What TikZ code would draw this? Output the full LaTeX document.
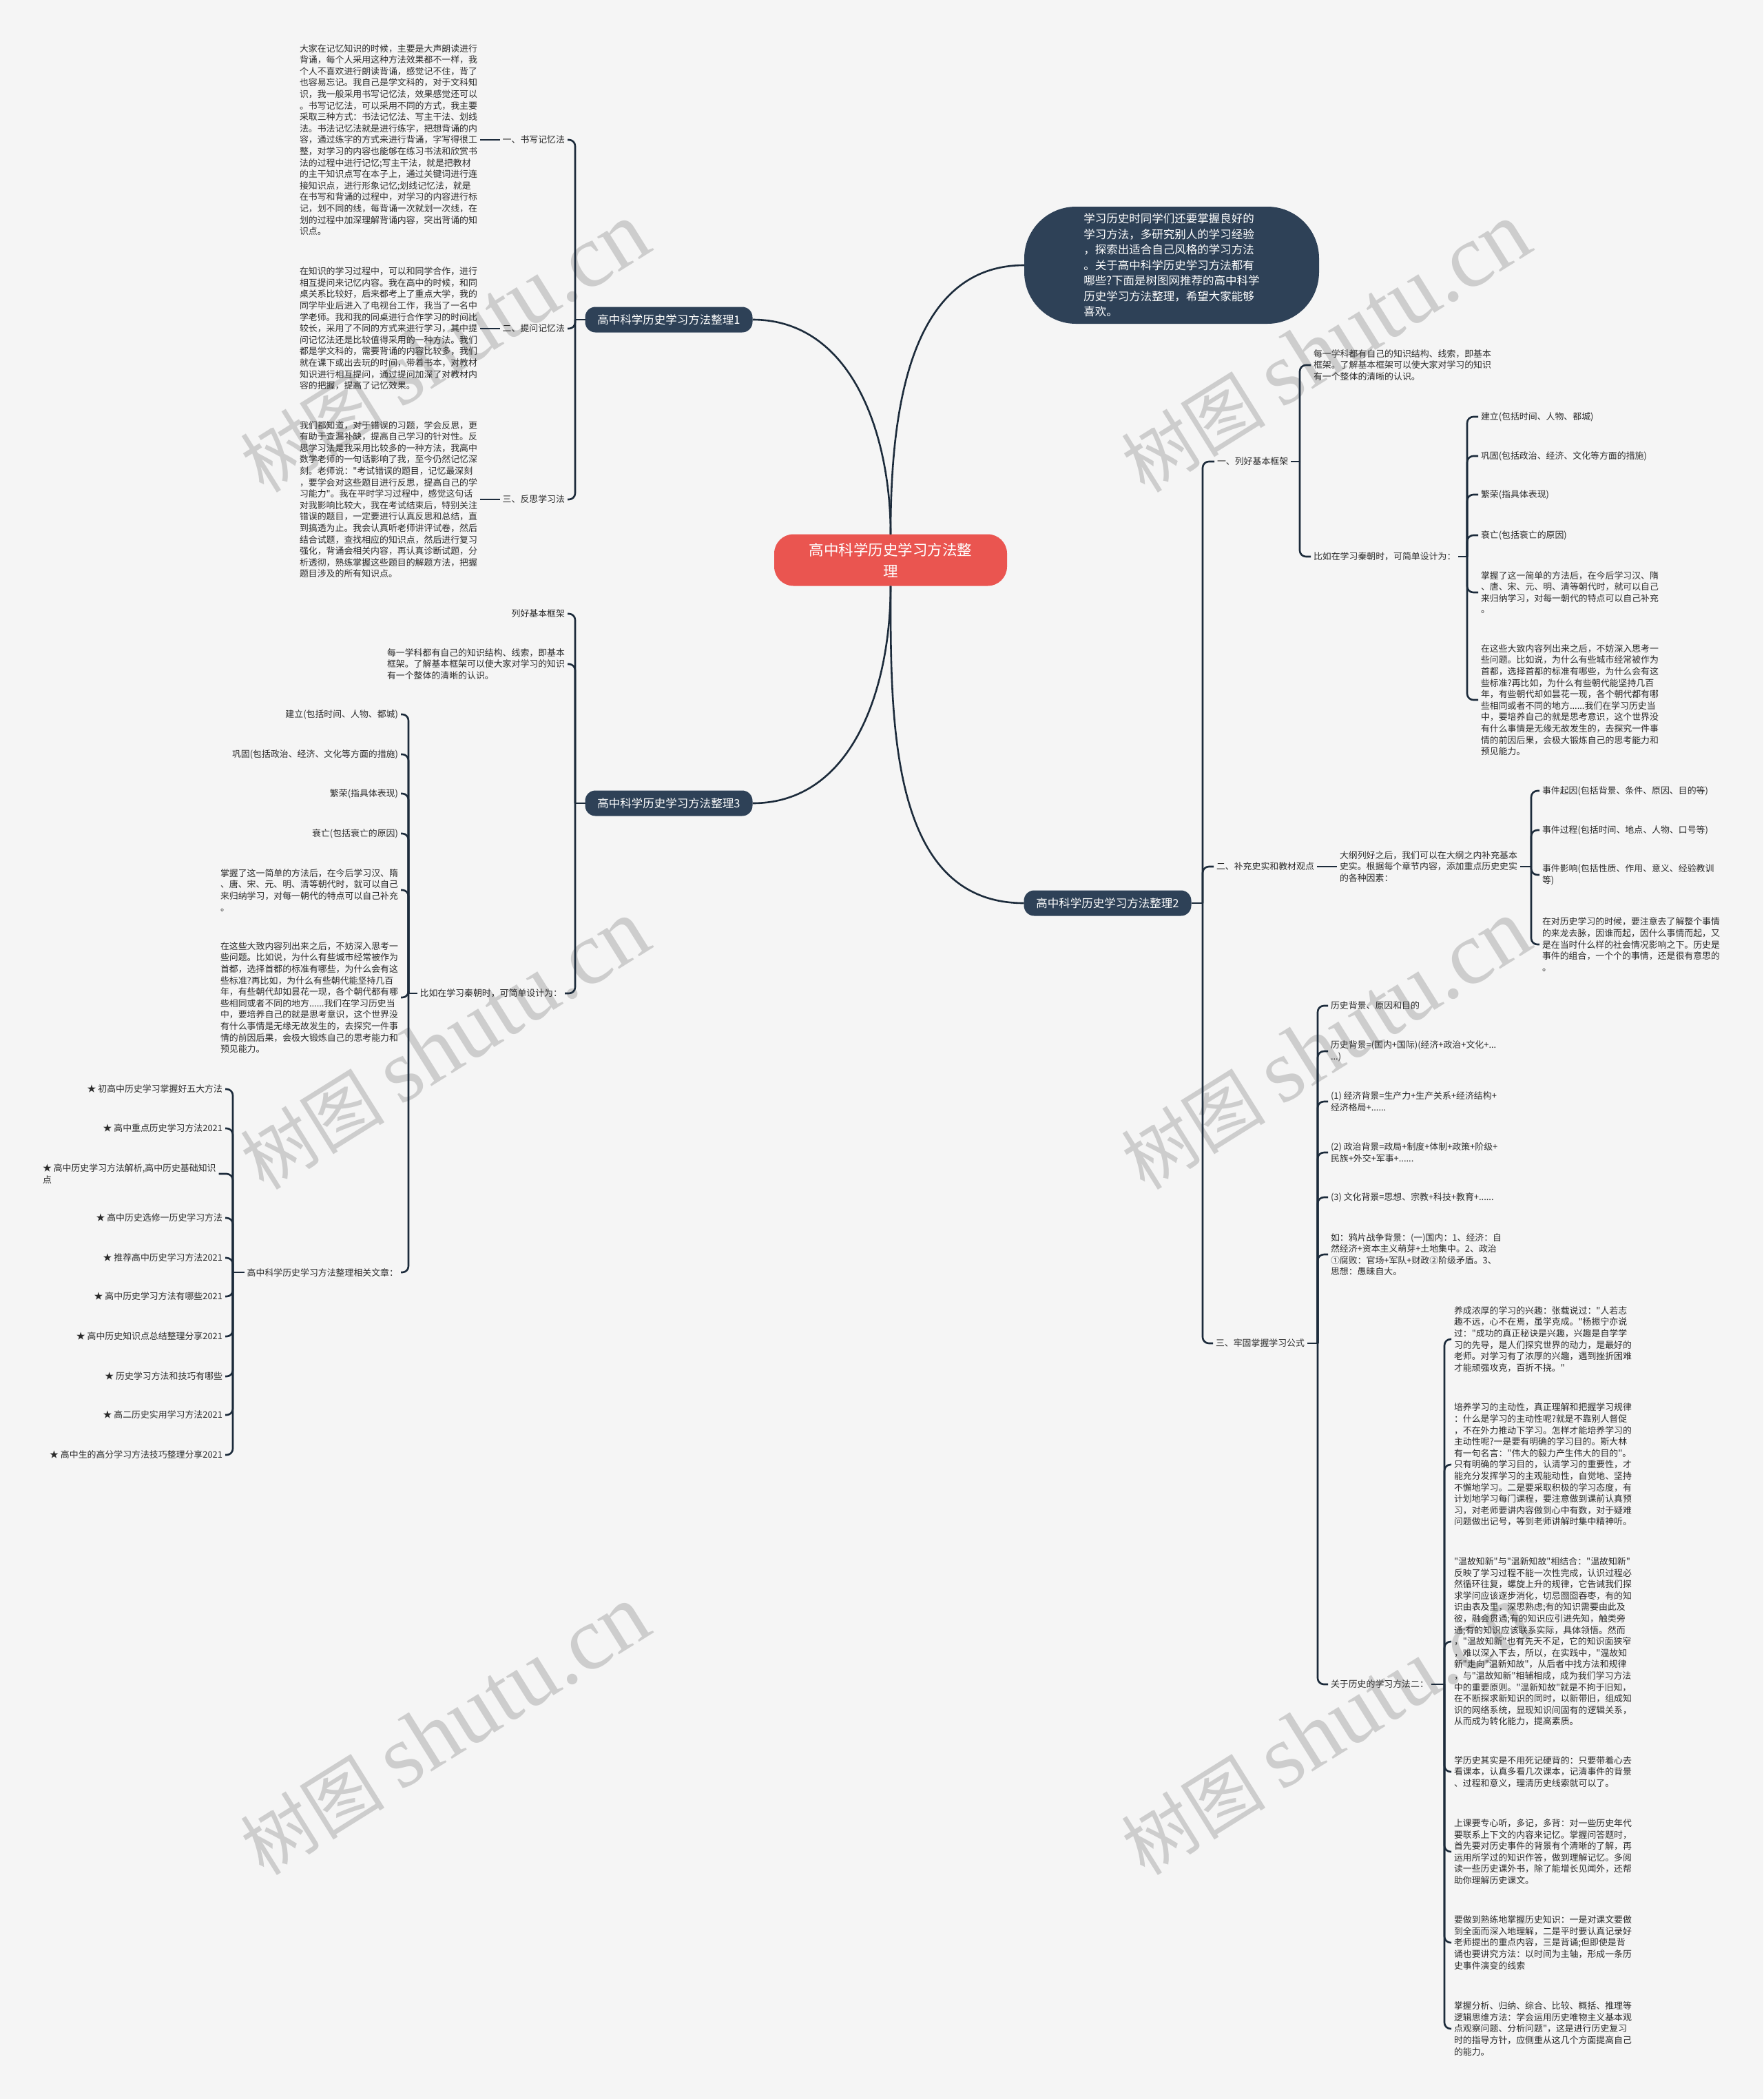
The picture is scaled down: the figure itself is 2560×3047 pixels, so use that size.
\documentclass[tikz,border=0pt]{standalone}
\usepackage{fontspec}
\setmainfont{Noto Sans CJK SC}[Ligatures=TeXOff]
\newfontfamily\wmlatin{Liberation Serif}
\usetikzlibrary{calc}
\definecolor{bgcol}{HTML}{F5F5F5}
\definecolor{topiccol}{HTML}{2E4157}
\definecolor{rootcol}{HTML}{EA5550}
\definecolor{linecol}{HTML}{1C2B3B}
\definecolor{textcol}{HTML}{2B2B2B}
\definecolor{wmcol}{HTML}{CDCDCD}
\newcommand\leafsize{\fontsize{12.9}{16.6}\selectfont}
\tikzset{%
    leaf/.style={inner xsep=4pt,inner ysep=0pt,outer sep=0pt,align=left,text=textcol,font=\leafsize},
    branch/.style={inner sep=0pt,outer sep=0pt,shape=rectangle,rounded corners=15pt,fill=topiccol,text=white,minimum width=243pt,minimum height=37pt,font=\fontsize{16.5}{20}\selectfont},
    roottopic/.style={inner sep=0pt,outer sep=0pt,rounded corners=28pt,fill=rootcol,text=white,minimum width=338pt,minimum height=75pt,align=center,font=\fontsize{21.5}{31}\selectfont},
    introbox/.style={inner sep=0pt,outer sep=0pt,rounded corners=75pt,fill=topiccol,text=white,minimum width=428pt,minimum height=170pt,align=left,font=\fontsize{16.5}{22.5}\selectfont},
    link/.style={draw=linecol,line width=2.6pt},
    brace/.style={link,rounded corners=9pt},
    watermark/.style={text=wmcol,rotate=32,inner sep=0pt},
}
\begin{document}
\begin{tikzpicture}[x=1pt,y=-1pt]
    \fill[bgcol] (0,0) rectangle (2560,3047);
    \useasboundingbox (0,0) rectangle (2560,3047);
    \foreach \wx/\wy in {646/505,1925/505,646/1517,1925/1517,646/2512,1925/2512}
        \node[watermark] (wm\wx\wy) at (\wx,\wy) {\fontsize{105}{110}\selectfont 树图 {\wmlatin\fontsize{130}{130}\selectfont shutu.cn}};

    \node[roottopic] (root) at (1293,813) {高中科学历史学习方法整\\理};
    \node[introbox] (intro) at (1701,385) {学习历史时同学们还要掌握良好的\\学习方法，多研究别人的学习经验\\，探索出适合自己风格的学习方法\\。关于高中科学历史学习方法都有\\哪些?下面是树图网推荐的高中科学\\历史学习方法整理，希望大家能够\\喜欢。};
    \node[branch] (t1) at (971,464) {高中科学历史学习方法整理1};
    \node[branch] (t2) at (1608,1311) {高中科学历史学习方法整理2};
    \node[branch] (t3) at (971,1166) {高中科学历史学习方法整理3};

    \draw[link] (root.north) to[out=90,in=180] (intro.west);
    \draw[link] (root.north) to[out=90,in=0] (t1.east);
    \draw[link] (root.south) to[out=-90,in=180] (t2.west);
    \draw[link] (root.south) to[out=-90,in=0] (t3.east);

    % branch 1
    \node[leaf,anchor=east] (s1a) at (824,203) {一、书写记忆法};
    \node[leaf,anchor=east] (s1b) at (824,477) {二、提问记忆法};
    \node[leaf,anchor=east] (s1c) at (824,725) {三、反思学习法};
    \coordinate (b1) at (835,464);
    \draw[link] (t1.west) -- (b1);
    \draw[brace] (b1) |- (s1a.east);
    \draw[brace] (b1) |- (s1b.east);
    \draw[brace] (b1) |- (s1c.east);
    \node[leaf,anchor=west] (a1) at (431,203) {大家在记忆知识的时候，主要是大声朗读进行\\背诵，每个人采用这种方法效果都不一样，我\\个人不喜欢进行朗读背诵，感觉记不住，背了\\也容易忘记。我自己是学文科的，对于文科知\\识，我一般采用书写记忆法，效果感觉还可以\\。书写记忆法，可以采用不同的方式，我主要\\采取三种方式：书法记忆法、写主干法、划线\\法。书法记忆法就是进行练字，把想背诵的内\\容，通过练字的方式来进行背诵，字写得很工\\整，对学习的内容也能够在练习书法和欣赏书\\法的过程中进行记忆;写主干法，就是把教材\\的主干知识点写在本子上，通过关键词进行连\\接知识点，进行形象记忆;划线记忆法，就是\\在书写和背诵的过程中，对学习的内容进行标\\记，划不同的线，每背诵一次就划一次线，在\\划的过程中加深理解背诵内容，突出背诵的知\\识点。};
    \node[leaf,anchor=west] (a2) at (431,477) {在知识的学习过程中，可以和同学合作，进行\\相互提问来记忆内容。我在高中的时候，和同\\桌关系比较好，后来都考上了重点大学，我的\\同学毕业后进入了电视台工作，我当了一名中\\学老师。我和我的同桌进行合作学习的时间比\\较长，采用了不同的方式来进行学习，其中提\\问记忆法还是比较值得采用的一种方法。我们\\都是学文科的，需要背诵的内容比较多，我们\\就在课下或出去玩的时间，带着书本，对教材\\知识进行相互提问，通过提问加深了对教材内\\容的把握，提高了记忆效果。};
    \node[leaf,anchor=west] (a3) at (431,725) {我们都知道，对于错误的习题，学会反思，更\\有助于查漏补缺，提高自己学习的针对性。反\\思学习法是我采用比较多的一种方法，我高中\\数学老师的一句话影响了我，至今仍然记忆深\\刻。老师说："考试错误的题目，记忆最深刻\\，要学会对这些题目进行反思，提高自己的学\\习能力"。我在平时学习过程中，感觉这句话\\对我影响比较大，我在考试结束后，特别关注\\错误的题目，一定要进行认真反思和总结，直\\到搞透为止。我会认真听老师讲评试卷，然后\\结合试题，查找相应的知识点，然后进行复习\\强化，背诵会相关内容，再认真诊断试题，分\\析透彻，熟练掌握这些题目的解题方法，把握\\题目涉及的所有知识点。};
    \draw[link] (s1a.west) -- (a1.east);
    \draw[link] (s1b.west) -- (a2.east);
    \draw[link] (s1c.west) -- (a3.east);

    % branch 3
    \node[leaf,anchor=east] (s3a) at (824,891) {列好基本框架};
    \node[leaf,anchor=east] (s3b) at (824,964) {每一学科都有自己的知识结构、线索，即基本\\框架。了解基本框架可以使大家对学习的知识\\有一个整体的清晰的认识。};
    \node[leaf,anchor=east] (s3c) at (820,1442) {比如在学习秦朝时，可简单设计为：};
    \coordinate (b3) at (835,1166);
    \draw[link] (t3.west) -- (b3);
    \draw[brace] (b3) |- (s3a.east);
    \draw[brace] (b3) |- (s3b.east);
    \draw[brace] (b3) |- (s3c.east);
    \node[leaf,anchor=east] (c1) at (582,1037) {建立(包括时间、人物、都城)};
    \node[leaf,anchor=east] (c2) at (582,1095) {巩固(包括政治、经济、文化等方面的措施)};
    \node[leaf,anchor=east] (c3) at (582,1152) {繁荣(指具体表现)};
    \node[leaf,anchor=east] (c4) at (582,1210) {衰亡(包括衰亡的原因)};
    \node[leaf,anchor=east] (c5) at (582,1292) {掌握了这一简单的方法后，在今后学习汉、隋\\、唐、宋、元、明、清等朝代时，就可以自己\\来归纳学习，对每一朝代的特点可以自己补充\\。};
    \node[leaf,anchor=east] (c6) at (582,1448) {在这些大致内容列出来之后，不妨深入思考一\\些问题。比如说，为什么有些城市经常被作为\\首都，选择首都的标准有哪些，为什么会有这\\些标准?再比如，为什么有些朝代能坚持几百\\年，有些朝代却如昙花一现，各个朝代都有哪\\些相同或者不同的地方......我们在学习历史当\\中，要培养自己的就是思考意识，这个世界没\\有什么事情是无缘无故发生的，去探究一件事\\情的前因后果，会极大锻炼自己的思考能力和\\预见能力。};
    \node[leaf,anchor=east] (c7) at (582,1847) {高中科学历史学习方法整理相关文章：};
    \coordinate (b3c) at (593,1442);
    \draw[link] (s3c.west) -- (b3c);
    \draw[brace] (b3c) |- (c1.east);
    \draw[brace] (b3c) |- (c2.east);
    \draw[brace] (b3c) |- (c3.east);
    \draw[brace] (b3c) |- (c4.east);
    \draw[brace] (b3c) |- (c5.east);
    \draw[brace] (b3c) |- (c6.east);
    \draw[brace] (b3c) |- (c7.east);
    \node[leaf,anchor=east] (l1) at (327,1581) {★ 初高中历史学习掌握好五大方法};
    \node[leaf,anchor=east] (l2) at (327,1638) {★ 高中重点历史学习方法2021};
    \node[leaf,anchor=west] (l3) at (58,1704) {★ 高中历史学习方法解析,高中历史基础知识\\点};
    \node[leaf,anchor=east] (l4) at (327,1768) {★ 高中历史选修一历史学习方法};
    \node[leaf,anchor=east] (l5) at (327,1826) {★ 推荐高中历史学习方法2021};
    \node[leaf,anchor=east] (l6) at (327,1882) {★ 高中历史学习方法有哪些2021};
    \node[leaf,anchor=east] (l7) at (327,1940) {★ 高中历史知识点总结整理分享2021};
    \node[leaf,anchor=east] (l8) at (327,1998) {★ 历史学习方法和技巧有哪些};
    \node[leaf,anchor=east] (l9) at (327,2054) {★ 高二历史实用学习方法2021};
    \node[leaf,anchor=east] (l10) at (327,2112) {★ 高中生的高分学习方法技巧整理分享2021};
    \coordinate (bl) at (338,1847);
    \draw[link] (c7.west) -- (bl);
    \draw[brace] (bl) |- (l1.east);
    \draw[brace] (bl) |- (l2.east);
    \draw[brace] (bl) |- (l3.east);
    \draw[brace] (bl) |- (l4.east);
    \draw[brace] (bl) |- (l5.east);
    \draw[brace] (bl) |- (l6.east);
    \draw[brace] (bl) |- (l7.east);
    \draw[brace] (bl) |- (l8.east);
    \draw[brace] (bl) |- (l9.east);
    \draw[brace] (bl) |- (l10.east);

    % branch 2
    \node[leaf,anchor=west] (r1) at (1763,670) {一、列好基本框架};
    \node[leaf,anchor=west] (r2) at (1762,1258) {二、补充史实和教材观点};
    \node[leaf,anchor=west] (r3) at (1761,1950) {三、牢固掌握学习公式};
    \coordinate (b2) at (1746,1311);
    \draw[link] (t2.east) -- (b2);
    \draw[brace] (b2) |- (r1.west);
    \draw[brace] (b2) |- (r2.west);
    \draw[brace] (b2) |- (r3.west);

    \node[leaf,anchor=west] (r1a) at (1903,530) {每一学科都有自己的知识结构、线索，即基本\\框架。了解基本框架可以使大家对学习的知识\\有一个整体的清晰的认识。};
    \node[leaf,anchor=west] (r1b) at (1903,808) {比如在学习秦朝时，可简单设计为：};
    \coordinate (b21) at (1887,670);
    \draw[link] (r1.east) -- (b21);
    \draw[brace] (b21) |- (r1a.west);
    \draw[brace] (b21) |- (r1b.west);
    \node[leaf,anchor=west] (q1) at (2146,605) {建立(包括时间、人物、都城)};
    \node[leaf,anchor=west] (q2) at (2146,662) {巩固(包括政治、经济、文化等方面的措施)};
    \node[leaf,anchor=west] (q3) at (2146,718) {繁荣(指具体表现)};
    \node[leaf,anchor=west] (q4) at (2146,777) {衰亡(包括衰亡的原因)};
    \node[leaf,anchor=west] (q5) at (2146,860) {掌握了这一简单的方法后，在今后学习汉、隋\\、唐、宋、元、明、清等朝代时，就可以自己\\来归纳学习，对每一朝代的特点可以自己补充\\。};
    \node[leaf,anchor=west] (q6) at (2146,1016) {在这些大致内容列出来之后，不妨深入思考一\\些问题。比如说，为什么有些城市经常被作为\\首都，选择首都的标准有哪些，为什么会有这\\些标准?再比如，为什么有些朝代能坚持几百\\年，有些朝代却如昙花一现，各个朝代都有哪\\些相同或者不同的地方......我们在学习历史当\\中，要培养自己的就是思考意识，这个世界没\\有什么事情是无缘无故发生的，去探究一件事\\情的前因后果，会极大锻炼自己的思考能力和\\预见能力。};
    \coordinate (b22) at (2130,808);
    \draw[link] (r1b.east) -- (b22);
    \draw[brace] (b22) |- (q1.west);
    \draw[brace] (b22) |- (q2.west);
    \draw[brace] (b22) |- (q3.west);
    \draw[brace] (b22) |- (q4.west);
    \draw[brace] (b22) |- (q5.west);
    \draw[brace] (b22) |- (q6.west);

    \node[leaf,anchor=west] (r2a) at (1941,1258) {大纲列好之后，我们可以在大纲之内补充基本\\史实。根据每个章节内容，添加重点历史史实\\的各种因素：};
    \draw[link] (r2.east) -- (r2a.west);
    \node[leaf,anchor=west] (e1) at (2235,1148) {事件起因(包括背景、条件、原因、目的等)};
    \node[leaf,anchor=west] (e2) at (2235,1205) {事件过程(包括时间、地点、人物、口号等)};
    \node[leaf,anchor=west] (e3) at (2235,1270) {事件影响(包括性质、作用、意义、经验教训\\等)};
    \node[leaf,anchor=west] (e4) at (2235,1371) {在对历史学习的时候，要注意去了解整个事情\\的来龙去脉，因谁而起，因什么事情而起，又\\是在当时什么样的社会情况影响之下。历史是\\事件的组合，一个个的事情，还是很有意思的\\。};
    \coordinate (b23) at (2223,1258);
    \draw[link] (r2a.east) -- (b23);
    \draw[brace] (b23) |- (e1.west);
    \draw[brace] (b23) |- (e2.west);
    \draw[brace] (b23) |- (e3.west);
    \draw[brace] (b23) |- (e4.west);

    \node[leaf,anchor=west] (f1) at (1928,1460) {历史背景、原因和目的};
    \node[leaf,anchor=west] (f2) at (1928,1526) {历史背景=(国内+国际)(经济+政治+文化+...\\...)};
    \node[leaf,anchor=west] (f3) at (1928,1599) {(1) 经济背景=生产力+生产关系+经济结构+\\经济格局+......};
    \node[leaf,anchor=west] (f4) at (1928,1673) {(2) 政治背景=政局+制度+体制+政策+阶级+\\民族+外交+军事+......};
    \node[leaf,anchor=west] (f5) at (1928,1738) {(3) 文化背景=思想、宗教+科技+教育+......};
    \node[leaf,anchor=west] (f6) at (1928,1821) {如：鸦片战争背景：(一)国内：1、经济：自\\然经济+资本主义萌芽+土地集中。2、政治\\①腐败：官场+军队+财政②阶级矛盾。3、\\思想：愚昧自大。};
    \node[leaf,anchor=west] (f7) at (1928,2445) {关于历史的学习方法二：};
    \coordinate (b24) at (1913,1950);
    \draw[link] (r3.east) -- (b24);
    \draw[brace] (b24) |- (f1.west);
    \draw[brace] (b24) |- (f2.west);
    \draw[brace] (b24) |- (f3.west);
    \draw[brace] (b24) |- (f4.west);
    \draw[brace] (b24) |- (f5.west);
    \draw[brace] (b24) |- (f6.west);
    \draw[brace] (b24) |- (f7.west);

    \node[leaf,anchor=west] (g1) at (2107,1944) {养成浓厚的学习的兴趣：张载说过："人若志\\趣不远，心不在焉，虽学克成。"杨振宁亦说\\过："成功的真正秘诀是兴趣，兴趣是自学学\\习的先导，是人们探究世界的动力，是最好的\\老师。对学习有了浓厚的兴趣，遇到挫折困难\\才能顽强攻克，百折不挠。"};
    \node[leaf,anchor=west] (g2) at (2107,2126) {培养学习的主动性，真正理解和把握学习规律\\：什么是学习的主动性呢?就是不靠别人督促\\，不在外力推动下学习。怎样才能培养学习的\\主动性呢?一是要有明确的学习目的。斯大林\\有一句名言："伟大的毅力产生伟大的目的"。\\只有明确的学习目的，认清学习的重要性，才\\能充分发挥学习的主观能动性，自觉地、坚持\\不懈地学习。二是要采取积极的学习态度，有\\计划地学习每门课程，要注意做到课前认真预\\习，对老师要讲内容做到心中有数，对于疑难\\问题做出记号，等到老师讲解时集中精神听。};
    \node[leaf,anchor=west] (g3) at (2107,2383) {"温故知新"与"温新知故"相结合："温故知新"\\反映了学习过程不能一次性完成，认识过程必\\然循环往复，螺旋上升的规律，它告诫我们探\\求学问应该逐步消化，切忌囫囵吞枣，有的知\\识由表及里，深思熟虑;有的知识需要由此及\\彼，融会贯通;有的知识应引进先知，触类旁\\通;有的知识应该联系实际，具体领悟。然而\\，"温故知新"也有先天不足，它的知识面狭窄\\，难以深入下去，所以，在实践中，"温故知\\新"走向"温新知故"，从后者中找方法和规律\\，与"温故知新"相辅相成，成为我们学习方法\\中的重要原则。"温新知故"就是不拘于旧知，\\在不断探求新知识的同时，以新带旧，组成知\\识的网络系统，显现知识间固有的逻辑关系，\\从而成为转化能力，提高素质。};
    \node[leaf,anchor=west] (g4) at (2107,2572) {学历史其实是不用死记硬背的：只要带着心去\\看课本，认真多看几次课本，记清事件的背景\\、过程和意义，理清历史线索就可以了。};
    \node[leaf,anchor=west] (g5) at (2107,2688) {上课要专心听，多记，多背：对一些历史年代\\要联系上下文的内容来记忆。掌握问答题时，\\首先要对历史事件的背景有个清晰的了解，再\\运用所学过的知识作答，做到理解记忆。多阅\\读一些历史课外书，除了能增长见闻外，还帮\\助你理解历史课文。};
    \node[leaf,anchor=west] (g6) at (2107,2820) {要做到熟练地掌握历史知识：一是对课文要做\\到全面而深入地理解，二是平时要认真记录好\\老师提出的重点内容，三是背诵;但即使是背\\诵也要讲究方法：以时间为主轴，形成一条历\\史事件演变的线索};
    \node[leaf,anchor=west] (g7) at (2107,2945) {掌握分析、归纳、综合、比较、概括、推理等\\逻辑思维方法：学会运用历史唯物主义基本观\\点观察问题、分析问题"，这是进行历史复习\\时的指导方针，应侧重从这几个方面提高自己\\的能力。};
    \coordinate (b25) at (2097,2445);
    \draw[link] (f7.east) -- (b25);
    \draw[brace] (b25) |- (g1.west);
    \draw[brace] (b25) |- (g2.west);
    \draw[brace] (b25) |- (g3.west);
    \draw[brace] (b25) |- (g4.west);
    \draw[brace] (b25) |- (g5.west);
    \draw[brace] (b25) |- (g6.west);
    \draw[brace] (b25) |- (g7.west);
\end{tikzpicture}
\end{document}
